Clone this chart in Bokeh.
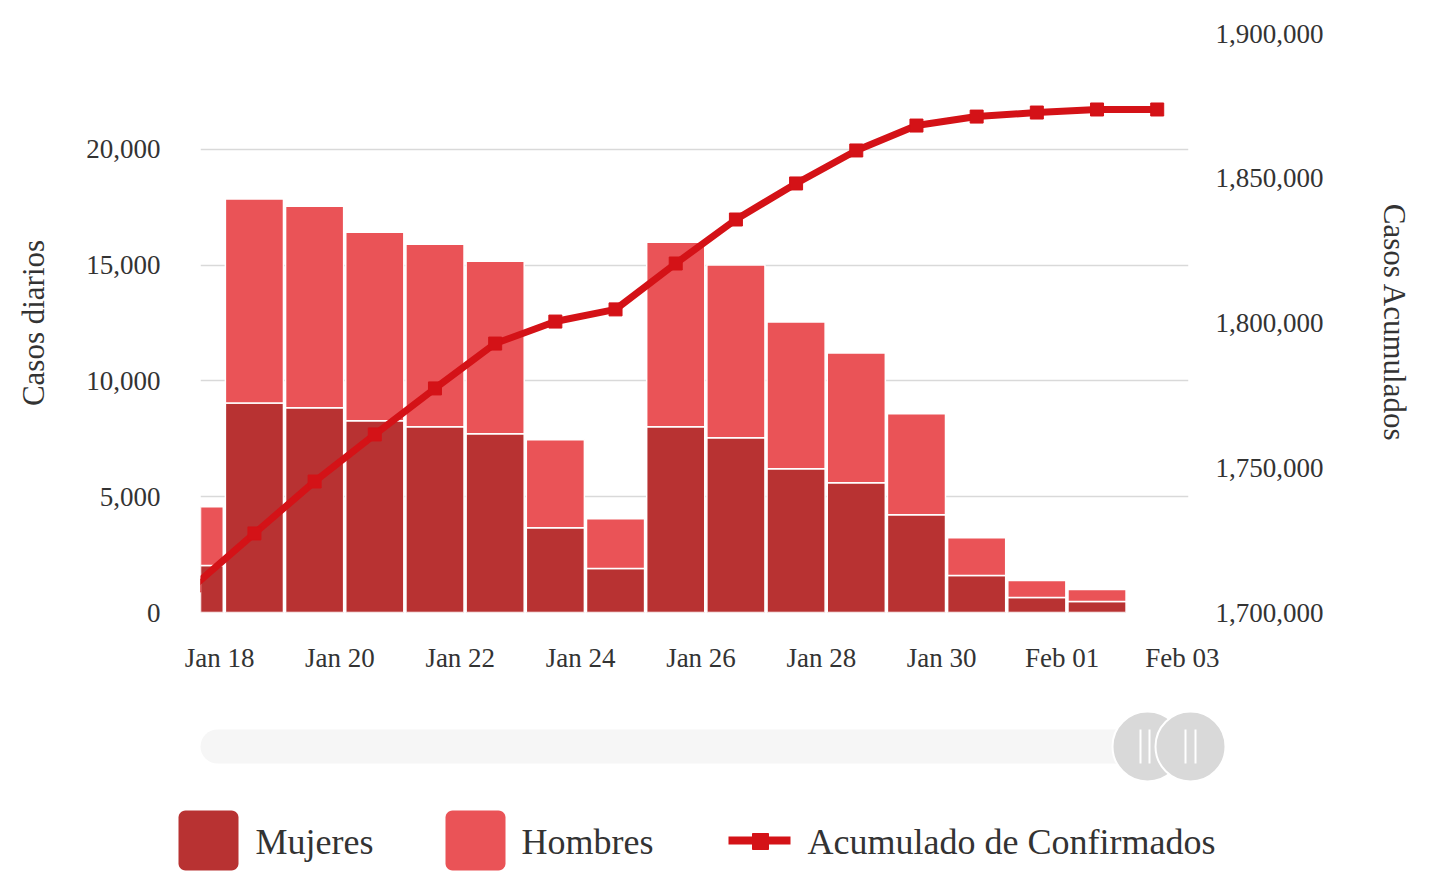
from bokeh.plotting import figure
from bokeh.models import Range1d, LinearAxis, FixedTicker, NumeralTickFormatter, ColumnDataSource
from bokeh.layouts import column
from bokeh.embed import file_html
from bokeh.resources import INLINE
from bokeh.core.properties import value
import numpy as np

# ---------------- data ----------------
fechas = ["Jan 17", "Jan 18", "Jan 19", "Jan 20", "Jan 21", "Jan 22", "Jan 23", "Jan 24",
          "Jan 25", "Jan 26", "Jan 27", "Jan 28", "Jan 29", "Jan 30", "Jan 31", "Feb 01", "Feb 02"]
mujeres = [2030, 9050, 8840, 8280, 8020, 7720, 3660, 1900, 8020, 7540, 6210, 5600, 4220, 1600, 650, 470, 0]
hombres = [2540, 8800, 8700, 8140, 7880, 7450, 3800, 2150, 7970, 7460, 6330, 5610, 4360, 1630, 730, 520, 0]
acumulado = [1709300, 1727300, 1745250, 1761500, 1777400, 1792900, 1800500, 1804700, 1820550,
             1835750, 1848200, 1859600, 1868200, 1871300, 1872700, 1873750, 1873750]
x_tick_labels = ["Jan 18", "Jan 20", "Jan 22", "Jan 24", "Jan 26", "Jan 28", "Jan 30", "Feb 01", "Feb 03"]
left_ticks = [0, 5000, 10000, 15000, 20000, 25000]
right_ticks = [1700000, 1750000, 1800000, 1850000, 1900000]
series_names = ["Mujeres", "Hombres", "Acumulado de Confirmados"]

FONT = "Liberation Serif"
C_MUJ = "#b83232"
C_HOM = "#ea5357"
C_LINE = "#d41217"
TXT = "#333333"

day_index = np.arange(len(fechas)) - 1          # Jan 17 -> -1, Jan 18 -> 0
xc = day_index + 0.58
src = ColumnDataSource(dict(x=xc, mujeres=mujeres, hombres=hombres, acumulado=acumulado))

W = 1435
p = figure(width=W, height=690, output_backend="svg", toolbar_location=None,
           x_range=Range1d(-0.316, 16.1), y_range=Range1d(0, 25000),
           min_border_left=200, min_border_right=W - 1188, min_border_top=33, min_border_bottom=78)
p.frame_align = False
p.outline_line_color = None
p.background_fill_color = "white"
p.border_fill_color = "white"

p.vbar_stack(["mujeres", "hombres"], x="x", width=0.965, source=src,
             color=[C_MUJ, C_HOM], line_color="white", line_width=1.5)

p.extra_y_ranges = {"acc": Range1d(1700000, 1900000)}
p.line("x", "acumulado", source=src, y_range_name="acc", line_width=7, color=C_LINE)
p.scatter("x", "acumulado", source=src, y_range_name="acc", marker="square", size=13, color=C_LINE)

# x axis
p.xaxis.ticker = FixedTicker(ticks=list(range(0, 17, 2)))
p.xaxis.major_label_overrides = {i * 2: lab for i, lab in enumerate(x_tick_labels)}
p.xaxis.major_label_standoff = 30
# left axis
p.yaxis.ticker = FixedTicker(ticks=left_ticks)
p.yaxis.formatter = NumeralTickFormatter(format="0,0")
p.yaxis.major_label_overrides = {25000: ""}
p.yaxis.axis_label = "Casos diarios"
p.yaxis.axis_label_standoff = 32
p.yaxis.major_label_standoff = 40
# right axis
rax = LinearAxis(y_range_name="acc", ticker=FixedTicker(ticks=right_ticks),
                 formatter=NumeralTickFormatter(format="0,0"), axis_label="Casos Acumulados")
rax.major_label_standoff = 27
rax.axis_label_standoff = 50
p.add_layout(rax, "right")

for ax in [p.xaxis[0], p.yaxis[0], rax]:
    ax.axis_line_color = None
    ax.major_tick_line_color = None
    ax.minor_tick_line_color = None
    ax.major_tick_out = 0
    ax.major_tick_in = 0
    ax.major_label_text_font = FONT
    ax.major_label_text_font_size = "27px"
    ax.major_label_text_color = TXT
    ax.axis_label_text_font = FONT
    ax.axis_label_text_font_size = "31px"
    ax.axis_label_text_font_style = "normal"
    ax.axis_label_text_color = TXT

p.xgrid.visible = False
p.ygrid.ticker = FixedTicker(ticks=left_ticks)
p.ygrid.grid_line_color = "#d9d9d9"
p.ygrid.grid_line_width = 1.5

# ---------------- scrollbar + legend ----------------
p2 = figure(width=W, height=193, output_backend="svg", toolbar_location=None,
            x_range=Range1d(0, W), y_range=Range1d(883, 690),
            min_border=0)
p2.frame_align = False
p2.axis.visible = False
p2.grid.visible = False
p2.outline_line_color = None

# scrollbar track
p2.line([217, 1150], [746, 746], line_width=34, line_cap="round", color="#f6f6f6")
# handles
p2.circle(x=[1147], y=[746], radius=35, fill_color="#d9d9d9", line_color="white", line_width=2)
p2.segment(x0=[1140, 1149], y0=[729, 729], x1=[1140, 1149], y1=[763, 763], line_color="white", line_width=2)
p2.circle(x=[1190], y=[746], radius=35, fill_color="#d9d9d9", line_color="white", line_width=2)
p2.segment(x0=[1185, 1195], y0=[729, 729], x1=[1185, 1195], y1=[763, 763], line_color="white", line_width=2)


def rrect(x0, y0, x1, y1, r):
    xs, ys = [], []
    corners = [(x1 - r, y0 + r, -np.pi / 2, 0), (x1 - r, y1 - r, 0, np.pi / 2),
               (x0 + r, y1 - r, np.pi / 2, np.pi), (x0 + r, y0 + r, np.pi, 1.5 * np.pi)]
    for cx, cy, a0, a1 in corners:
        t = np.linspace(a0, a1, 8)
        xs += list(cx + r * np.cos(t))
        ys += list(cy + r * np.sin(t))
    return xs, ys


xs, ys = rrect(178, 810, 238, 870, 7)
p2.patch(xs, ys, fill_color=C_MUJ, line_color=None)
xs, ys = rrect(445, 810, 505, 870, 7)
p2.patch(xs, ys, fill_color=C_HOM, line_color=None)
p2.line([728, 790], [840, 840], line_width=8, color=C_LINE)
p2.scatter([760], [841], marker="square", size=16, color=C_LINE)

p2.text(x=[255, 521, 807], y=[841, 841, 841], text=series_names,
        text_font=value(FONT), text_font_size="36px", text_color=TXT,
        text_baseline="middle", text_align="left")

layout = column(p, p2, spacing=0)
open("out.html", "w").write(file_html(layout, INLINE))
